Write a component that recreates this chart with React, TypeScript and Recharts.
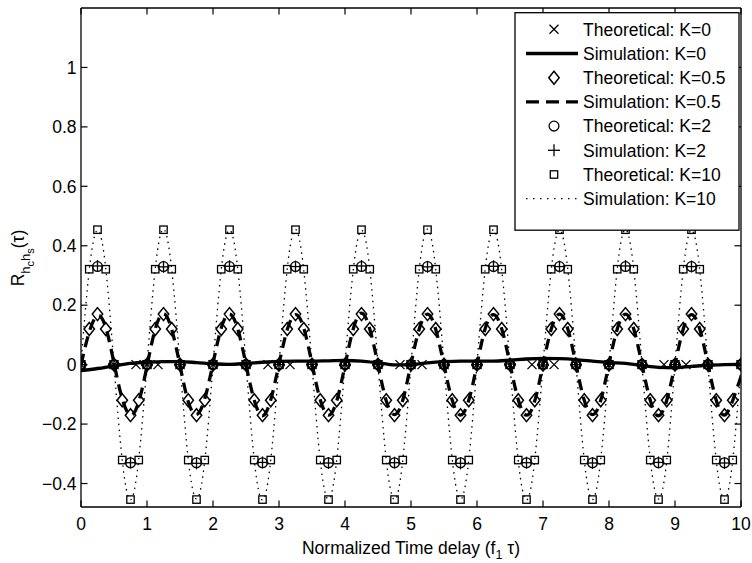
import React from 'react';
import { ComposedChart, Line, Scatter, XAxis, YAxis } from 'recharts';

const FONT = '"Liberation Sans", Arial, Helvetica, sans-serif';

// time-delay grids (f1 * tau)
const tau8 = [0,0.125,0.25,0.375,0.5,0.625,0.75,0.875,1,1.125,1.25,1.375,1.5,1.625,1.75,1.875,2,2.125,2.25,2.375,2.5,2.625,2.75,2.875,3,3.125,3.25,3.375,3.5,3.625,3.75,3.875,4,4.125,4.25,4.375,4.5,4.625,4.75,4.875,5,5.125,5.25,5.375,5.5,5.625,5.75,5.875,6,6.125,6.25,6.375,6.5,6.625,6.75,6.875,7,7.125,7.25,7.375,7.5,7.625,7.75,7.875,8,8.125,8.25,8.375,8.5,8.625,8.75,8.875,9,9.125,9.25,9.375,9.5,9.625,9.75,9.875,10];
const tau4 = [0,0.25,0.5,0.75,1,1.25,1.5,1.75,2,2.25,2.5,2.75,3,3.25,3.5,3.75,4,4.25,4.5,4.75,5,5.25,5.5,5.75,6,6.25,6.5,6.75,7,7.25,7.5,7.75,8,8.25,8.5,8.75,9,9.25,9.5,9.75,10];
const theoK0Tau = [0,0.5,0.833,1,1.167,1.5,2,2.5,2.833,3,3.167,3.5,4,4.5,4.833,5,5.167,5.5,6,6.5,6.833,7,7.167,7.5,8,8.5,8.833,9,9.167,9.5,10];

// Theoretical: K=0
const theoK0 = [0,0,0,0,0,0,0,0,0,0,0,0,0,0,0,0,0,0,0,0,0,0,0,0,0,0,0,0,0,0,0];
// Simulation: K=0
const simK0 = [-0.02,-0.013,-0.004,0.004,0.008,0.01,0.01,0.007,0.003,0.001,0.004,0.008,0.011,0.012,0.012,0.013,0.014,0.012,0.006,-0.001,0.0,0.006,0.01,0.012,0.012,0.012,0.015,0.019,0.021,0.02,0.017,0.012,0.007,0.004,-0.003,-0.009,-0.01,-0.006,-0.002,0.0,0.001];
// Theoretical: K=0.5
const theoK05 = [
  0,0.12,0.17,0.12,0,-0.12,-0.17,-0.12,
  0,0.12,0.17,0.12,0,-0.12,-0.17,-0.12,
  0,0.12,0.17,0.12,0,-0.12,-0.17,-0.12,
  0,0.12,0.17,0.12,0,-0.12,-0.17,-0.12,
  0,0.12,0.17,0.12,0,-0.12,-0.17,-0.12,
  0,0.12,0.17,0.12,0,-0.12,-0.17,-0.12,
  0,0.12,0.17,0.12,0,-0.12,-0.17,-0.12,
  0,0.12,0.17,0.12,0,-0.12,-0.17,-0.12,
  0,0.12,0.17,0.12,0,-0.12,-0.17,-0.12,
  0,0.12,0.17,0.12,0,-0.12,-0.17,-0.12,
  0];
// Simulation: K=0.5
const simK05 = [
  0.0,0.11,0.165,0.125,0.005,-0.115,-0.17,-0.125,
  -0.005,0.12,0.172,0.118,-0.003,-0.125,-0.168,-0.115,
  0.004,0.123,0.17,0.12,0.0,-0.12,-0.172,-0.118,
  0.002,0.118,0.168,0.123,0.003,-0.118,-0.17,-0.122,
  -0.002,0.12,0.173,0.12,0.0,-0.122,-0.168,-0.12,
  0.003,0.12,0.17,0.118,-0.002,-0.12,-0.17,-0.12,
  0.0,0.122,0.168,0.12,0.002,-0.118,-0.17,-0.122,
  0.0,0.12,0.17,0.121,0.0,-0.12,-0.168,-0.12,
  0.003,0.12,0.17,0.12,0.0,-0.12,-0.172,-0.12,
  0.0,0.12,0.168,0.12,0.0,-0.12,-0.17,-0.12,
  -0.04];
// Theoretical: K=2
const theoK2 = [0,0.33,0,-0.33,0,0.33,0,-0.33,0,0.33,0,-0.33,0,0.33,0,-0.33,0,0.33,0,-0.33,0,0.33,0,-0.33,0,0.33,0,-0.33,0,0.33,0,-0.33,0,0.33,0,-0.33,0,0.33,0,-0.33,0];
// Simulation: K=2
const simK2 = [0,0.332,0.002,-0.33,-0.001,0.329,0.0,-0.332,0.002,0.331,-0.001,-0.329,0.0,0.33,0.001,-0.331,-0.002,0.332,0.0,-0.33,0.001,0.329,-0.001,-0.332,0.0,0.331,0.002,-0.33,-0.001,0.33,0.0,-0.331,0.001,0.332,-0.002,-0.329,0.0,0.33,0.001,-0.331,0.0];
// Theoretical: K=10
const theoK10 = [
  0,0.321,0.454,0.321,0,-0.321,-0.454,-0.321,
  0,0.321,0.454,0.321,0,-0.321,-0.454,-0.321,
  0,0.321,0.454,0.321,0,-0.321,-0.454,-0.321,
  0,0.321,0.454,0.321,0,-0.321,-0.454,-0.321,
  0,0.321,0.454,0.321,0,-0.321,-0.454,-0.321,
  0,0.321,0.454,0.321,0,-0.321,-0.454,-0.321,
  0,0.321,0.454,0.321,0,-0.321,-0.454,-0.321,
  0,0.321,0.454,0.321,0,-0.321,-0.454,-0.321,
  0,0.321,0.454,0.321,0,-0.321,-0.454,-0.321,
  0,0.321,0.454,0.321,0,-0.321,-0.454,-0.321,
  0];
// Simulation: K=10
const simK10 = [
  0.004,0.318,0.452,0.324,-0.003,-0.322,-0.455,-0.318,
  0.002,0.323,0.456,0.319,0.001,-0.318,-0.452,-0.323,
  -0.002,0.32,0.453,0.322,0.003,-0.321,-0.456,-0.32,
  0.001,0.322,0.455,0.318,-0.002,-0.323,-0.453,-0.319,
  0.003,0.319,0.452,0.323,0.0,-0.32,-0.455,-0.322,
  -0.001,0.321,0.456,0.32,0.002,-0.319,-0.453,-0.321,
  0.002,0.323,0.454,0.318,-0.001,-0.322,-0.456,-0.32,
  0.0,0.319,0.453,0.322,0.003,-0.321,-0.454,-0.318,
  -0.002,0.322,0.455,0.321,0.001,-0.318,-0.452,-0.323,
  0.001,0.32,0.453,0.319,-0.002,-0.322,-0.455,-0.32,
  0.0];

const xTicks = [0,1,2,3,4,5,6,7,8,9,10];
const yTicks = [-0.4,-0.2,0,0.2,0.4,0.6,0.8,1];
const legendLabels = ['Theoretical: K=0','Simulation: K=0','Theoretical: K=0.5','Simulation: K=0.5','Theoretical: K=2','Simulation: K=2','Theoretical: K=10','Simulation: K=10'];
const xLabel = 'Normalized Time delay (f';
const xLabelSub = '1';
const xLabelTail = ' \u03C4)';
const yLabelTail = '(\u03C4)';

const pts = (xs: number[], ys: number[]) => xs.map((x, i) => ({ x, y: ys[i] }));

const fmt = (v: number) => (v < 0 ? '\u2212' + String(Math.abs(v)) : String(v));

const SW = 1.3;

const XMark = ({ cx, cy }: any) => (
  <g stroke="#000" strokeWidth={SW} fill="none">
    <line x1={cx - 4.5} y1={cy - 4.5} x2={cx + 4.5} y2={cy + 4.5} />
    <line x1={cx - 4.5} y1={cy + 4.5} x2={cx + 4.5} y2={cy - 4.5} />
  </g>
);
const DiamondMark = ({ cx, cy }: any) => (
  <polygon points={`${cx},${cy - 6.5} ${cx + 5.2},${cy} ${cx},${cy + 6.5} ${cx - 5.2},${cy}`} stroke="#000" strokeWidth={1.5} fill="none" />
);
const CircleMark = ({ cx, cy }: any) => (
  <circle cx={cx} cy={cy} r={4.9} stroke="#000" strokeWidth={SW} fill="none" />
);
const PlusMark = ({ cx, cy }: any) => (
  <g stroke="#000" strokeWidth={SW} fill="none">
    <line x1={cx - 6} y1={cy} x2={cx + 6} y2={cy} />
    <line x1={cx} y1={cy - 6} x2={cx} y2={cy + 6} />
  </g>
);
const SquareMark = ({ cx, cy }: any) => (
  <rect x={cx - 3.7} y={cy - 3.7} width={7.4} height={7.4} stroke="#000" strokeWidth={SW} fill="none" />
);

const BottomTick = (p: any) => {
  const { x, y, payload } = p;
  return (
    <g>
      <line x1={x} y1={y} x2={x} y2={y - 6.5} stroke="#000" strokeWidth={1.2} />
      <text x={x} y={y + 22.8} textAnchor="middle" fontSize={17.5} fontFamily={FONT} fill="#000">{fmt(payload.value)}</text>
    </g>
  );
};
const LeftTick = (p: any) => {
  const { x, y, payload } = p;
  return (
    <g>
      <line x1={x} y1={y} x2={x + 6.5} y2={y} stroke="#000" strokeWidth={1.2} />
      <text x={x - 4.5} y={y + 6.2} textAnchor="end" fontSize={17.5} fontFamily={FONT} fill="#000">{fmt(payload.value)}</text>
    </g>
  );
};
const TopTick = (p: any) => {
  const { x, y } = p;
  return <line x1={x} y1={y} x2={x} y2={y + 6.5} stroke="#000" strokeWidth={1.2} />;
};
const RightTick = (p: any) => {
  const { x, y } = p;
  return <line x1={x} y1={y} x2={x - 6.5} y2={y} stroke="#000" strokeWidth={1.2} />;
};

const LegendBox = () => {
  const x0 = 515, y0 = 12.7, w = 224, h = 217.5;
  const sx = 554, lx1 = 526, lx2 = 578, tx = 583;
  const rowY = (i: number) => 29.3 + 24.2 * i;
  const sym = (i: number) => {
    const cy = rowY(i);
    switch (i) {
      case 0: return <XMark cx={sx} cy={cy} />;
      case 1: return <line x1={lx1} y1={cy} x2={lx2} y2={cy} stroke="#000" strokeWidth={3.3} />;
      case 2: return <DiamondMark cx={sx} cy={cy} />;
      case 3: return <line x1={lx1} y1={cy} x2={lx2} y2={cy} stroke="#000" strokeWidth={3.3} strokeDasharray="13 7" />;
      case 4: return <CircleMark cx={sx} cy={cy} />;
      case 5: return <PlusMark cx={sx} cy={cy} />;
      case 6: return <SquareMark cx={sx} cy={cy} />;
      default: return <line x1={lx1} y1={cy} x2={lx2} y2={cy} stroke="#000" strokeWidth={1.3} strokeDasharray="1.5 5.5" />;
    }
  };
  return (
    <svg width={752} height={563} style={{ position: 'absolute', left: 0, top: 0, pointerEvents: 'none' }}>
      <rect x={x0} y={y0} width={w} height={h} fill="#fff" stroke="#000" strokeWidth={1.3} />
      {legendLabels.map((lab, i) => (
        <g key={lab}>
          {sym(i)}
          <text x={tx} y={rowY(i) + 6.2} fontSize={17.5} fontFamily={FONT} fill="#000">{lab}</text>
        </g>
      ))}
      <text x={411} y={554} textAnchor="middle" fontSize={17.5} fontFamily={FONT} fill="#000">
        {xLabel}
        <tspan fontSize={12.5} dy={5}>{xLabelSub}</tspan>
        <tspan dy={-5}>{xLabelTail}</tspan>
      </text>
      <text x={24} y={258} transform="rotate(-90 24 258)" textAnchor="middle" fontSize={17.5} fontFamily={FONT} fill="#000">
        R
        <tspan fontSize={13} dy={6}>h</tspan>
        <tspan fontSize={11} dy={4}>c</tspan>
        <tspan fontSize={13} dy={-4}>h</tspan>
        <tspan fontSize={11} dy={4}>s</tspan>
        <tspan dy={-10}>{yLabelTail}</tspan>
      </text>
    </svg>
  );
};

export default function App() {
  return (
    <div style={{ position: 'absolute', left: 0, top: 0, width: 752, height: 563, background: '#fff' }}>
      <ComposedChart width={752} height={563} margin={{ top: 6, right: 9, bottom: 26, left: 21 }}>
        <XAxis dataKey="x" type="number" domain={[0, 10]} ticks={xTicks} interval={0} allowDataOverflow
          height={30} tickSize={0} tickMargin={0} tick={<BottomTick />} tickLine={false}
          axisLine={{ stroke: '#000', strokeWidth: 1.3 }} />
        <XAxis xAxisId="top" orientation="top" dataKey="x" type="number" domain={[0, 10]} ticks={xTicks} interval={0} allowDataOverflow
          height={2} tickSize={0} tickMargin={0} tick={<TopTick />} tickLine={false}
          axisLine={{ stroke: '#000', strokeWidth: 1.3 }} />
        <YAxis dataKey="y" type="number" domain={[-0.479, 1.2]} ticks={yTicks} interval={0} allowDataOverflow
          width={60} tickSize={0} tickMargin={0} tick={<LeftTick />} tickLine={false}
          axisLine={{ stroke: '#000', strokeWidth: 1.3 }} />
        <YAxis yAxisId="r" orientation="right" type="number" domain={[-0.479, 1.2]} ticks={yTicks} interval={0} allowDataOverflow
          width={2} tickSize={0} tickMargin={0} tick={<RightTick />} tickLine={false}
          axisLine={{ stroke: '#000', strokeWidth: 1.3 }} />

        <Scatter data={pts(theoK0Tau, theoK0)} dataKey="y" shape={<XMark />} isAnimationActive={false} />
        <Line data={pts(tau4, simK0)} dataKey="y" type="monotone" stroke="#000" strokeWidth={3.3} dot={false} activeDot={false} isAnimationActive={false} />
        <Scatter data={pts(tau8, theoK05)} dataKey="y" shape={<DiamondMark />} isAnimationActive={false} />
        <Line data={pts(tau8, simK05)} dataKey="y" type="natural" stroke="#000" strokeWidth={3.3} strokeDasharray="11 7" dot={false} activeDot={false} isAnimationActive={false} />
        <Scatter data={pts(tau4, theoK2)} dataKey="y" shape={<CircleMark />} isAnimationActive={false} />
        <Scatter data={pts(tau4, simK2)} dataKey="y" shape={<PlusMark />} isAnimationActive={false} />
        <Scatter data={pts(tau8, theoK10)} dataKey="y" shape={<SquareMark />} isAnimationActive={false} />
        <Line data={pts(tau8, simK10)} dataKey="y" type="natural" stroke="#000" strokeWidth={1.3} strokeDasharray="1.5 4.5" dot={false} activeDot={false} isAnimationActive={false} />
      </ComposedChart>
      <LegendBox />
    </div>
  );
}
